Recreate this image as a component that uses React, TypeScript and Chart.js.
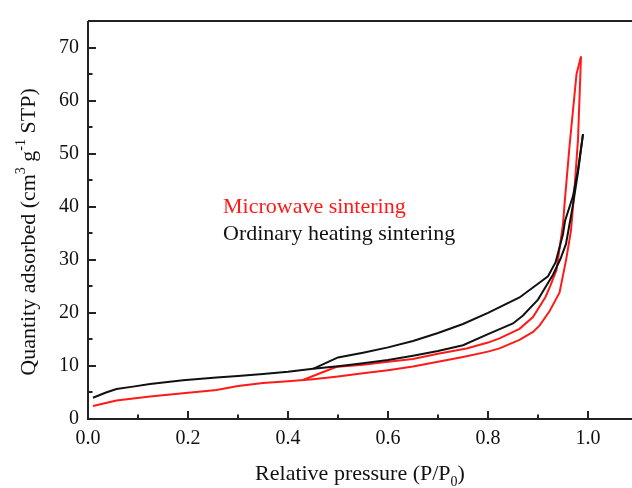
import { useEffect, useRef } from 'react';
import { Chart, registerables } from 'chart.js';

Chart.register(...registerables);

// Microwave sintering – adsorption branch
const microAdsP = [0.01, 0.057, 0.124, 0.19, 0.257, 0.30, 0.35, 0.40, 0.45, 0.50, 0.55, 0.60, 0.65, 0.70, 0.75, 0.80, 0.823, 0.863, 0.89, 0.903, 0.923, 0.943, 0.956, 0.966, 0.973, 0.98, 0.986];
const microAdsQ = [2.45, 3.5, 4.24, 4.85, 5.47, 6.2, 6.8, 7.1, 7.5, 8.0, 8.6, 9.2, 9.9, 10.8, 11.7, 12.7, 13.3, 14.9, 16.4, 17.6, 20.3, 23.8, 29.9, 35.5, 43.4, 52.7, 68.3];
// Microwave sintering – desorption branch
const microDesP = [0.986, 0.977, 0.963, 0.953, 0.95, 0.937, 0.925, 0.915, 0.89, 0.863, 0.823, 0.80, 0.757, 0.70, 0.65, 0.60, 0.55, 0.50, 0.496, 0.45, 0.43];
const microDesQ = [68.3, 65.0, 51.4, 40.4, 36.7, 28.1, 25.2, 23.0, 19.2, 17.0, 15.2, 14.4, 13.3, 12.3, 11.3, 10.8, 10.2, 9.85, 9.8, 8.1, 7.35];

// Ordinary heating sintering – adsorption branch
const ordAdsP = [0.01, 0.036, 0.057, 0.09, 0.124, 0.19, 0.257, 0.30, 0.35, 0.40, 0.45, 0.50, 0.55, 0.60, 0.65, 0.70, 0.75, 0.80, 0.85, 0.87, 0.90, 0.916, 0.93, 0.945, 0.956, 0.97, 0.98, 0.99];
const ordAdsQ = [4.0, 5.0, 5.65, 6.1, 6.6, 7.3, 7.8, 8.1, 8.5, 8.9, 9.45, 9.95, 10.5, 11.1, 11.9, 12.8, 13.9, 16.0, 18.0, 19.5, 22.5, 25.0, 27.2, 30.2, 33.0, 40.4, 46.5, 53.7];
// Ordinary heating sintering – desorption branch
const ordDesP = [0.99, 0.98, 0.97, 0.954, 0.95, 0.935, 0.92, 0.90, 0.863, 0.80, 0.75, 0.70, 0.65, 0.60, 0.55, 0.50, 0.45];
const ordDesQ = [53.7, 47.0, 42.0, 37.3, 34.8, 29.5, 26.9, 25.5, 22.9, 20.0, 17.9, 16.2, 14.7, 13.5, 12.5, 11.6, 9.45];

const xMajorTicks = [0, 0.2, 0.4, 0.6, 0.8, 1.0];
const xMinorTicks = [0.1, 0.3, 0.5, 0.7, 0.9];
const yMajorTicks = [0, 10, 20, 30, 40, 50, 60, 70];
const yMinorTicks = [5, 15, 25, 35, 45, 55, 65];

const seriesNames = ['Microwave sintering', 'Ordinary heating sintering'];
const seriesColors = ['#ff1a1a', '#111111'];

const FONT = "'Liberation Serif', 'Times New Roman', serif";

const toPoints = (p: number[], q: number[]) => p.map((v, i) => ({ x: v, y: q[i] }));

const setTicks = (major: number[], minor: number[]) => (scale: any) => {
  const all = [...major.map((v) => ({ value: v, major: true })), ...minor.map((v) => ({ value: v, major: false }))];
  all.sort((a, b) => a.value - b.value);
  scale.ticks = all.map((t) => ({ value: t.value, major: t.major }));
};

const decorPlugin = {
  id: 'decor',
  afterDraw(chart: any) {
    const { ctx, chartArea: a, scales } = chart;
    const x = scales.x;
    const y = scales.y;
    ctx.save();
    ctx.strokeStyle = '#222';
    ctx.lineWidth = 2;
    ctx.beginPath();
    ctx.moveTo(a.left, a.top);
    ctx.lineTo(a.right, a.top);
    ctx.moveTo(a.left, a.top);
    ctx.lineTo(a.left, a.bottom);
    ctx.lineTo(a.right, a.bottom);
    ctx.stroke();
    ctx.beginPath();
    x.ticks.forEach((t: any) => {
      const px = Math.round(x.getPixelForValue(t.value));
      const len = t.major ? 8 : 4.5;
      ctx.moveTo(px, a.bottom);
      ctx.lineTo(px, a.bottom - len);
    });
    y.ticks.forEach((t: any) => {
      const py = Math.round(y.getPixelForValue(t.value));
      const len = t.major ? 8 : 4.5;
      ctx.moveTo(a.left, py);
      ctx.lineTo(a.left + len, py);
    });
    ctx.stroke();

    // X title with subscript
    ctx.fillStyle = '#111';
    ctx.textBaseline = 'alphabetic';
    const big = `22px ${FONT}`;
    const small = `14px ${FONT}`;
    const xt1 = 'Relative pressure (P/P';
    const xsub = '0';
    const xt2 = ')';
    ctx.font = big;
    const w1 = ctx.measureText(xt1).width;
    const w3 = ctx.measureText(xt2).width;
    ctx.font = small;
    const w2 = ctx.measureText(xsub).width;
    const total = w1 + w2 + w3;
    const sx = 360 - total / 2;
    const by = 480;
    ctx.font = big;
    ctx.textAlign = 'left';
    ctx.fillText(xt1, sx, by);
    ctx.font = small;
    ctx.fillText(xsub, sx + w1, by + 6);
    ctx.font = big;
    ctx.fillText(xt2, sx + w1 + w2, by);

    // Y title with superscripts
    const parts: [string, boolean][] = [
      ['Quantity adsorbed (cm', false],
      ['3', true],
      [' g', false],
      ['-1', true],
      [' STP)', false],
    ];
    const widths = parts.map(([s, sup]) => {
      ctx.font = sup ? small : big;
      return ctx.measureText(s).width;
    });
    const tw = widths.reduce((s, v) => s + v, 0);
    ctx.save();
    ctx.translate(35, 232);
    ctx.rotate(-Math.PI / 2);
    let cx = -tw / 2;
    parts.forEach(([s, sup], i) => {
      ctx.font = sup ? small : big;
      ctx.fillText(s, cx, sup ? -10 : 0);
      cx += widths[i];
    });
    ctx.restore();

    // Legend text
    ctx.font = big;
    seriesNames.forEach((name, i) => {
      ctx.fillStyle = seriesColors[i];
      ctx.fillText(name, 223, 213 + i * 27);
    });
    ctx.restore();
  },
};

export default function App() {
  const ref = useRef<HTMLCanvasElement | null>(null);
  useEffect(() => {
    if (!ref.current) return;
    const mk = (label: string, p: number[], q: number[], color: string) => ({
      label,
      data: toPoints(p, q),
      borderColor: color,
      backgroundColor: color,
      borderWidth: 2,
      pointRadius: 0,
      tension: 0,
      fill: false,
    });
    const chart = new Chart(ref.current, {
      type: 'line',
      data: {
        datasets: [
          mk(seriesNames[1] + ' adsorption', ordAdsP, ordAdsQ, seriesColors[1]),
          mk(seriesNames[1] + ' desorption', ordDesP, ordDesQ, seriesColors[1]),
          mk(seriesNames[0] + ' adsorption', microAdsP, microAdsQ, seriesColors[0]),
          mk(seriesNames[0] + ' desorption', microDesP, microDesQ, seriesColors[0]),
        ],
      },
      options: {
        animation: false,
        responsive: true,
        maintainAspectRatio: false,
        layout: { padding: { top: 12, right: 0, left: 0, bottom: 0 } },
        plugins: { legend: { display: false }, tooltip: { enabled: false } },
        scales: {
          x: {
            type: 'linear',
            min: 0,
            max: 1.088,
            afterBuildTicks: setTicks(xMajorTicks, xMinorTicks),
            afterFit: (s: any) => { s.height = 69; },
            grid: { display: false, drawTicks: false },
            border: { display: false },
            ticks: {
              autoSkip: false,
              maxRotation: 0,
              padding: 8,
              color: '#111',
              font: { family: FONT, size: 20 },
              callback: (v: any) => (xMajorTicks.includes(Number(v)) ? Number(v).toFixed(1) : ''),
            },
          },
          y: {
            type: 'linear',
            min: 0,
            max: 75,
            afterBuildTicks: setTicks(yMajorTicks, yMinorTicks),
            afterFit: (s: any) => { s.width = 88; },
            grid: { display: false, drawTicks: false },
            border: { display: false },
            ticks: {
              autoSkip: false,
              padding: 9,
              color: '#111',
              font: { family: FONT, size: 20 },
              callback: (v: any) => (yMajorTicks.includes(Number(v)) ? String(v) : ''),
            },
          },
        },
      },
      plugins: [decorPlugin],
    });
    return () => chart.destroy();
  }, []);
  return (
    <div style={{ position: 'absolute', left: 0, top: 0, width: 632, height: 488, background: '#fff' }}>
      <canvas ref={ref} />
    </div>
  );
}
